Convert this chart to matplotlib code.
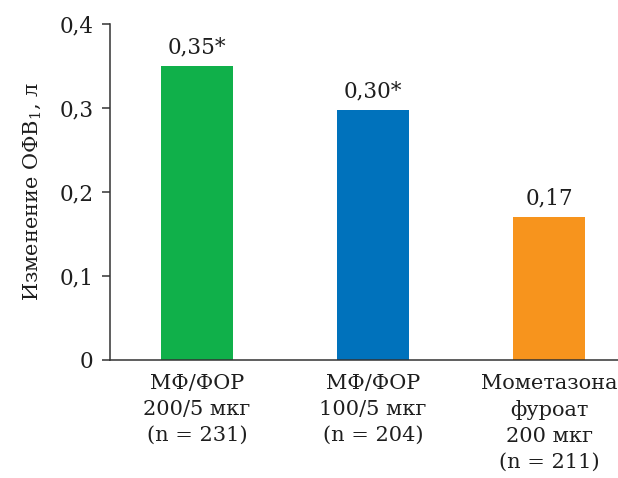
import matplotlib
matplotlib.use("Agg")
import matplotlib.pyplot as plt

# data
groups = ["МФ/ФОР\n200/5 мкг\n(n = 231)",
          "МФ/ФОР\n100/5 мкг\n(n = 204)",
          "Мометазона\nфуроат\n200 мкг\n(n = 211)"]
values = [0.35, 0.298, 0.17]
labels = ["0,35*", "0,30*", "0,17"]
colors = ["#10b04a", "#0072bc", "#f7941d"]
yticks = [0, 0.1, 0.2, 0.3, 0.4]
ytick_labels = ["0", "0,1", "0,2", "0,3", "0,4"]

plt.rcParams['font.family'] = ['DejaVu Serif']
plt.rcParams['mathtext.fontset'] = 'custom'
plt.rcParams['mathtext.rm'] = 'DejaVu Serif'
plt.rcParams['mathtext.it'] = 'DejaVu Serif'

txt = '#1e1e1e'

fig = plt.figure(figsize=(6.18, 4.78), dpi=100)
ax = fig.add_axes([0.178, 0.247, 0.822, 0.703])

x = range(len(values))
ax.bar(x, values, width=0.41, color=colors)

# value labels over the bars
for i, v in enumerate(values):
    ax.text(i, v + 0.009, labels[i], ha='center', va='bottom', fontsize=15.5, color=txt)

ax.set_xlim(-0.494, 2.39)
ax.set_ylim(0, 0.4)
ax.set_yticks(yticks)
ax.set_yticklabels(ytick_labels, fontsize=15.5, color=txt)
ax.set_xticks(list(x))
ax.set_xticklabels(groups, fontsize=15, color=txt, linespacing=1.45)
ax.tick_params(axis='x', length=0, pad=10)
ax.tick_params(axis='y', length=6, width=1.1, color='#333333', pad=6)

for side in ['top', 'right']:
    ax.spines[side].set_visible(False)
for side in ['left', 'bottom']:
    ax.spines[side].set_linewidth(1.1)
    ax.spines[side].set_color('#333333')

ax.set_ylabel(r'Изменение ОФВ$_1$, л', fontsize=15, color=txt, labelpad=12)

fig.savefig("out.png", dpi=100)
